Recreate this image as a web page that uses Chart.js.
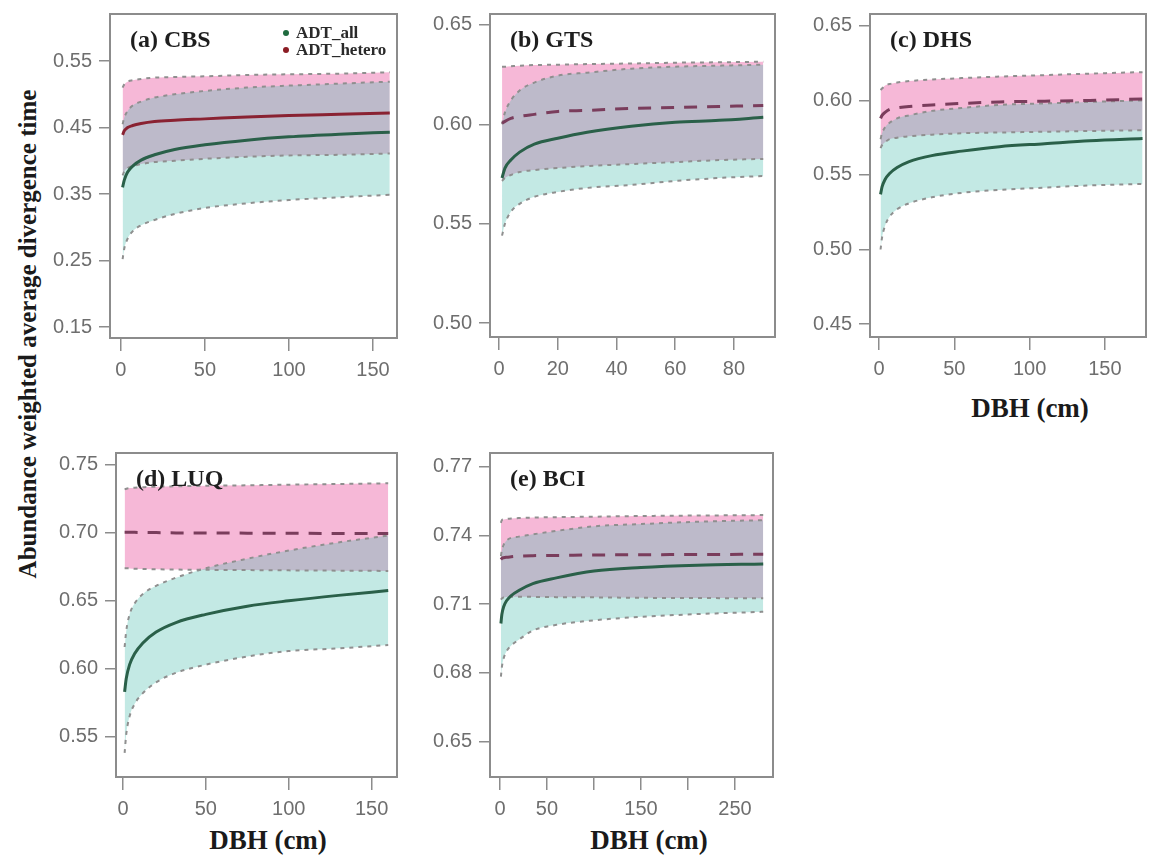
<!DOCTYPE html>
<html>
<head>
<meta charset="utf-8">
<title>ADT vs DBH</title>
<script src="https://cdn.jsdelivr.net/npm/chart.js@4.4.1/dist/chart.umd.min.js"></script>
<style>
  body { margin: 0; background: #fff; }
  #page { position: relative; width: 1149px; height: 863px; overflow: hidden; }
  #page canvas { position: absolute; }
  .axis-title { position: absolute; font: bold 27px "Liberation Serif", serif; color: #1a1a1a; white-space: nowrap; transform: translate(-50%, -50%); }
  .y-title { font-size: 25px; transform: translate(-50%, -50%) rotate(-90deg); }
</style>
</head>
<body>
<div id="page">
  <div class="axis-title y-title" style="left:28px; top:334px;">Abundance weighted average divergence time</div>
  <div class="axis-title" style="left:1030px; top:408px;">DBH (cm)</div>
  <div class="axis-title" style="left:268px; top:840px;">DBH (cm)</div>
  <div class="axis-title" style="left:649px; top:840px;">DBH (cm)</div>
</div>
<script>
// (a) CBS
const cbsDbh   = [1, 2, 4, 7, 12, 20, 32, 50, 75, 100, 130, 160];
const cbsAll   = [0.360, 0.371, 0.383, 0.392, 0.401, 0.409, 0.417, 0.424, 0.431, 0.436, 0.440, 0.443];
const cbsAllLo = [0.252, 0.268, 0.283, 0.294, 0.303, 0.311, 0.320, 0.329, 0.336, 0.341, 0.345, 0.349];
const cbsAllHi = [0.455, 0.465, 0.475, 0.483, 0.489, 0.495, 0.500, 0.505, 0.510, 0.513, 0.516, 0.519];
const cbsHet   = [0.439, 0.445, 0.450, 0.453, 0.456, 0.459, 0.461, 0.463, 0.466, 0.468, 0.470, 0.472];
const cbsHetLo = [0.378, 0.384, 0.389, 0.392, 0.395, 0.398, 0.400, 0.403, 0.406, 0.408, 0.409, 0.411];
const cbsHetHi = [0.510, 0.515, 0.519, 0.521, 0.523, 0.525, 0.526, 0.527, 0.529, 0.530, 0.531, 0.533];

// (b) GTS
const gtsDbh   = [1, 2, 4, 7, 12, 20, 30, 45, 60, 75, 90];
const gtsAll   = [0.573, 0.578, 0.582, 0.586, 0.590, 0.593, 0.596, 0.599, 0.601, 0.602, 0.6035];
const gtsAllLo = [0.544, 0.550, 0.556, 0.560, 0.5635, 0.566, 0.568, 0.5695, 0.5715, 0.573, 0.574];
const gtsAllHi = [0.600, 0.606, 0.612, 0.617, 0.621, 0.6245, 0.626, 0.628, 0.629, 0.6295, 0.630];
const gtsHet   = [0.6005, 0.6015, 0.603, 0.604, 0.605, 0.6065, 0.607, 0.608, 0.6085, 0.609, 0.6095];
const gtsHetLo = [0.5715, 0.573, 0.5745, 0.576, 0.577, 0.578, 0.579, 0.580, 0.581, 0.582, 0.5826];
const gtsHetHi = [0.629, 0.629, 0.6292, 0.6295, 0.6298, 0.630, 0.6303, 0.6306, 0.631, 0.6312, 0.6315];

// (c) DHS
const dhsDbh   = [1, 2, 4, 7, 12, 20, 35, 55, 80, 110, 140, 175];
const dhsAll   = [0.537, 0.542, 0.547, 0.551, 0.555, 0.559, 0.563, 0.566, 0.569, 0.571, 0.573, 0.5745];
const dhsAllLo = [0.500, 0.508, 0.516, 0.522, 0.527, 0.531, 0.535, 0.538, 0.540, 0.5415, 0.543, 0.544];
const dhsAllHi = [0.574, 0.578, 0.582, 0.585, 0.588, 0.590, 0.593, 0.595, 0.597, 0.598, 0.599, 0.600];
const dhsHet   = [0.588, 0.590, 0.592, 0.594, 0.595, 0.596, 0.597, 0.598, 0.599, 0.5995, 0.600, 0.601];
const dhsHetLo = [0.568, 0.570, 0.572, 0.574, 0.575, 0.576, 0.577, 0.578, 0.5785, 0.579, 0.5795, 0.580];
const dhsHetHi = [0.607, 0.608, 0.610, 0.611, 0.612, 0.613, 0.614, 0.615, 0.616, 0.617, 0.618, 0.619];

// (d) LUQ
const luqDbh   = [1, 2, 4, 7, 12, 20, 32, 50, 75, 100, 130, 160];
const luqAll   = [0.583, 0.593, 0.603, 0.611, 0.619, 0.627, 0.634, 0.640, 0.646, 0.650, 0.654, 0.6575];
const luqAllLo = [0.538, 0.552, 0.565, 0.574, 0.582, 0.590, 0.597, 0.603, 0.609, 0.613, 0.615, 0.6175];
const luqAllHi = [0.616, 0.628, 0.640, 0.648, 0.655, 0.661, 0.667, 0.674, 0.681, 0.687, 0.693, 0.698];
const luqHet   = [0.7005, 0.7005, 0.7005, 0.7004, 0.7003, 0.7002, 0.7000, 0.7000, 0.6998, 0.6997, 0.6996, 0.6995];
const luqHetLo = [0.674, 0.674, 0.6738, 0.6736, 0.6734, 0.6732, 0.673, 0.6728, 0.6726, 0.6724, 0.6722, 0.672];
const luqHetHi = [0.732, 0.7325, 0.733, 0.7333, 0.7336, 0.734, 0.7343, 0.7347, 0.735, 0.7355, 0.736, 0.7365];

// (e) BCI
const bciDbh   = [1, 2, 4, 7, 12, 20, 35, 60, 100, 150, 210, 280];
const bciAll   = [0.7016, 0.7055, 0.709, 0.7115, 0.7138, 0.716, 0.719, 0.7215, 0.7245, 0.726, 0.727, 0.7276];
const bciAllLo = [0.6784, 0.6825, 0.6865, 0.6895, 0.692, 0.6945, 0.6985, 0.701, 0.703, 0.7045, 0.7057, 0.7067];
const bciAllHi = [0.731, 0.7335, 0.736, 0.7378, 0.739, 0.7395, 0.7405, 0.742, 0.744, 0.745, 0.746, 0.7467];
const bciHet   = [0.7295, 0.730, 0.7303, 0.7305, 0.7307, 0.731, 0.7312, 0.7313, 0.7315, 0.7316, 0.7317, 0.7318];
const bciHetLo = [0.712, 0.7125, 0.713, 0.7132, 0.7133, 0.7133, 0.7132, 0.7131, 0.713, 0.7128, 0.7127, 0.7126];
const bciHetHi = [0.7455, 0.7467, 0.747, 0.7472, 0.7474, 0.7476, 0.7478, 0.748, 0.7482, 0.7485, 0.7487, 0.7489];

// tick values and labels
const cbsXTicks = [0, 50, 100, 150];
const gtsXTicks = [0, 20, 40, 60, 80];
const dhsXTicks = [0, 50, 100, 150];
const luqXTicks = [0, 50, 100, 150];
const bciXTicks = [0, 50, 100, 150, 200, 250];
const bciXLabels = ['0', '50', '', '150', '', '250'];
const cbsYTicks = [0.15, 0.25, 0.35, 0.45, 0.55];
const gtsYTicks = [0.50, 0.55, 0.60, 0.65];
const dhsYTicks = [0.45, 0.50, 0.55, 0.60, 0.65];
const luqYTicks = [0.55, 0.60, 0.65, 0.70, 0.75];
const bciYTicks = [0.65, 0.68, 0.71, 0.74, 0.77];

const legendItems = [
    { label: 'ADT_all', color: '#1f6b3f' },
    { label: 'ADT_hetero', color: '#8b1c24' }
];

// box = [left, top, right, bottom] of the plot frame on the page
const panels = [
    { title: '(a) CBS', box: [110, 14, 397, 338], x: [-6.5, 164.3], y: [0.1335, 0.6207],
      dbh: cbsDbh, all: cbsAll, allLo: cbsAllLo, allHi: cbsAllHi, het: cbsHet, hetLo: cbsHetLo, hetHi: cbsHetHi,
      xTicks: cbsXTicks, yTicks: cbsYTicks, hetSolid: true, legend: true },
    { title: '(b) GTS', box: [490, 14, 775, 337], x: [-3.1, 94], y: [0.493, 0.6555],
      dbh: gtsDbh, all: gtsAll, allLo: gtsAllLo, allHi: gtsAllHi, het: gtsHet, hetLo: gtsHetLo, hetHi: gtsHetHi,
      xTicks: gtsXTicks, yTicks: gtsYTicks },
    { title: '(c) DHS', box: [870, 14, 1146, 337], x: [-6, 177.3], y: [0.4413, 0.658],
      dbh: dhsDbh, all: dhsAll, allLo: dhsAllLo, allHi: dhsAllHi, het: dhsHet, hetLo: dhsHetLo, hetHi: dhsHetHi,
      xTicks: dhsXTicks, yTicks: dhsYTicks },
    { title: '(d) LUQ', box: [116, 453, 397, 777], x: [-4.2, 165.3], y: [0.5203, 0.7588],
      dbh: luqDbh, all: luqAll, allLo: luqAllLo, allHi: luqAllHi, het: luqHet, hetLo: luqHetLo, hetHi: luqHetHi,
      xTicks: luqXTicks, yTicks: luqYTicks },
    { title: '(e) BCI', box: [490, 453, 773, 777], x: [-10.6, 290.4], y: [0.6346, 0.776],
      dbh: bciDbh, all: bciAll, allLo: bciAllLo, allHi: bciAllHi, het: bciHet, hetLo: bciHetLo, hetHi: bciHetHi,
      xTicks: bciXTicks, xLabels: bciXLabels, yTicks: bciYTicks }
];

const Y_AXIS_W = 72;
const X_AXIS_H = 50;
const PAD_TOP = 6;
const PAD_RIGHT = 6;

// frame, panel label and legend drawn on top of the chart
const framePlugin = {
    id: 'frame',
    afterDraw(chart, args, opts) {
        const { ctx, chartArea: a } = chart;
        ctx.save();
        ctx.strokeStyle = '#8c8c8c';
        ctx.lineWidth = 2;
        ctx.strokeRect(a.left, a.top, a.right - a.left, a.bottom - a.top);

        ctx.fillStyle = '#1e1e1e';
        ctx.textBaseline = 'middle';
        ctx.font = 'bold 24px "Liberation Serif"';
        ctx.fillText(opts.title, a.left + 20, a.top + 27);

        if (opts.legend) {
            ctx.font = 'bold 17px "Liberation Serif"';
            legendItems.forEach((item, i) => {
                const y = a.top + 19 + i * 17;
                ctx.fillStyle = item.color;
                ctx.beginPath();
                ctx.arc(a.left + 176, y, 3, 0, Math.PI * 2);
                ctx.fill();
                ctx.fillStyle = '#2a2a2a';
                ctx.fillText(item.label, a.left + 186, y + 1);
            });
        }
        ctx.restore();
    }
};

function pts(xs, ys) {
    return xs.map((x, i) => ({ x: x, y: ys[i] }));
}

function band(xs, ys, fill, color, order) {
    return {
        data: pts(xs, ys),
        borderColor: 'transparent',
        borderWidth: 0,
        backgroundColor: color,
        fill: fill,
        order: order
    };
}

function boundLine(xs, ys) {
    return {
        data: pts(xs, ys),
        borderColor: '#8f8f8f',
        borderWidth: 2,
        borderDash: [4, 5],
        fill: false,
        order: 1
    };
}

const page = document.getElementById('page');

panels.forEach(p => {
    const [L, T, R, B] = p.box;
    const canvas = document.createElement('canvas');
    const w = (R - L) + Y_AXIS_W + PAD_RIGHT;
    const h = (B - T) + PAD_TOP + X_AXIS_H;
    canvas.width = w;
    canvas.height = h;
    canvas.style.left = (L - Y_AXIS_W) + 'px';
    canvas.style.top = (T - PAD_TOP) + 'px';
    canvas.style.width = w + 'px';
    canvas.style.height = h + 'px';
    page.appendChild(canvas);

    // pink band is drawn first, the cyan band goes over it
    const pink = 'rgba(238, 118, 178, 0.52)';
    const cyan = 'rgba(78, 190, 176, 0.34)';

    const datasets = [
        band(p.dbh, p.hetLo, false, 'transparent', 3),
        band(p.dbh, p.hetHi, '-1', pink, 3),
        band(p.dbh, p.allLo, false, 'transparent', 2),
        band(p.dbh, p.allHi, '-1', cyan, 2),
        boundLine(p.dbh, p.hetLo),
        boundLine(p.dbh, p.hetHi),
        boundLine(p.dbh, p.allLo),
        boundLine(p.dbh, p.allHi),
        {
            data: pts(p.dbh, p.all),
            borderColor: '#2a6049',
            borderWidth: 3,
            fill: false,
            order: 0
        },
        {
            data: pts(p.dbh, p.het),
            borderColor: p.hetSolid ? '#8a2232' : '#7a3d5c',
            borderWidth: 3,
            borderDash: p.hetSolid ? [] : [13, 10],
            fill: false,
            order: 0
        }
    ];

    new Chart(canvas.getContext('2d'), {
        type: 'line',
        data: { datasets: datasets },
        options: {
            responsive: false,
            animation: false,
            devicePixelRatio: 1,
            events: [],
            elements: {
                point: { radius: 0 },
                line: { cubicInterpolationMode: 'monotone' }
            },
            layout: { padding: { top: PAD_TOP, right: PAD_RIGHT, left: 0, bottom: 0 } },
            plugins: {
                legend: { display: false },
                tooltip: { enabled: false },
                frame: { title: p.title, legend: !!p.legend }
            },
            scales: {
                x: {
                    type: 'linear',
                    min: p.x[0],
                    max: p.x[1],
                    afterBuildTicks: s => { s.ticks = p.xTicks.map(v => ({ value: v })); },
                    afterFit: s => { s.height = X_AXIS_H; s.paddingLeft = 0; s.paddingRight = 0; },
                    border: { display: false },
                    grid: { drawOnChartArea: false, tickLength: 13, color: '#8c8c8c', lineWidth: 1.5 },
                    ticks: {
                        autoSkip: false,
                        maxRotation: 0,
                        padding: 7,
                        color: '#6e6e6e',
                        font: { family: 'Liberation Sans', size: 20 },
                        callback: (v, i) => p.xLabels ? p.xLabels[i] : String(p.xTicks[i])
                    }
                },
                y: {
                    type: 'linear',
                    min: p.y[0],
                    max: p.y[1],
                    afterBuildTicks: s => { s.ticks = p.yTicks.map(v => ({ value: v })); },
                    afterFit: s => { s.width = Y_AXIS_W; s.paddingTop = 0; s.paddingBottom = 0; },
                    border: { display: false },
                    grid: { drawOnChartArea: false, tickLength: 11, color: '#8c8c8c', lineWidth: 1.5 },
                    ticks: {
                        autoSkip: false,
                        padding: 7,
                        color: '#6e6e6e',
                        font: { family: 'Liberation Sans', size: 20 },
                        callback: (v, i) => p.yTicks[i].toFixed(2)
                    }
                }
            }
        },
        plugins: [framePlugin]
    });
});
</script>
</body>
</html>
